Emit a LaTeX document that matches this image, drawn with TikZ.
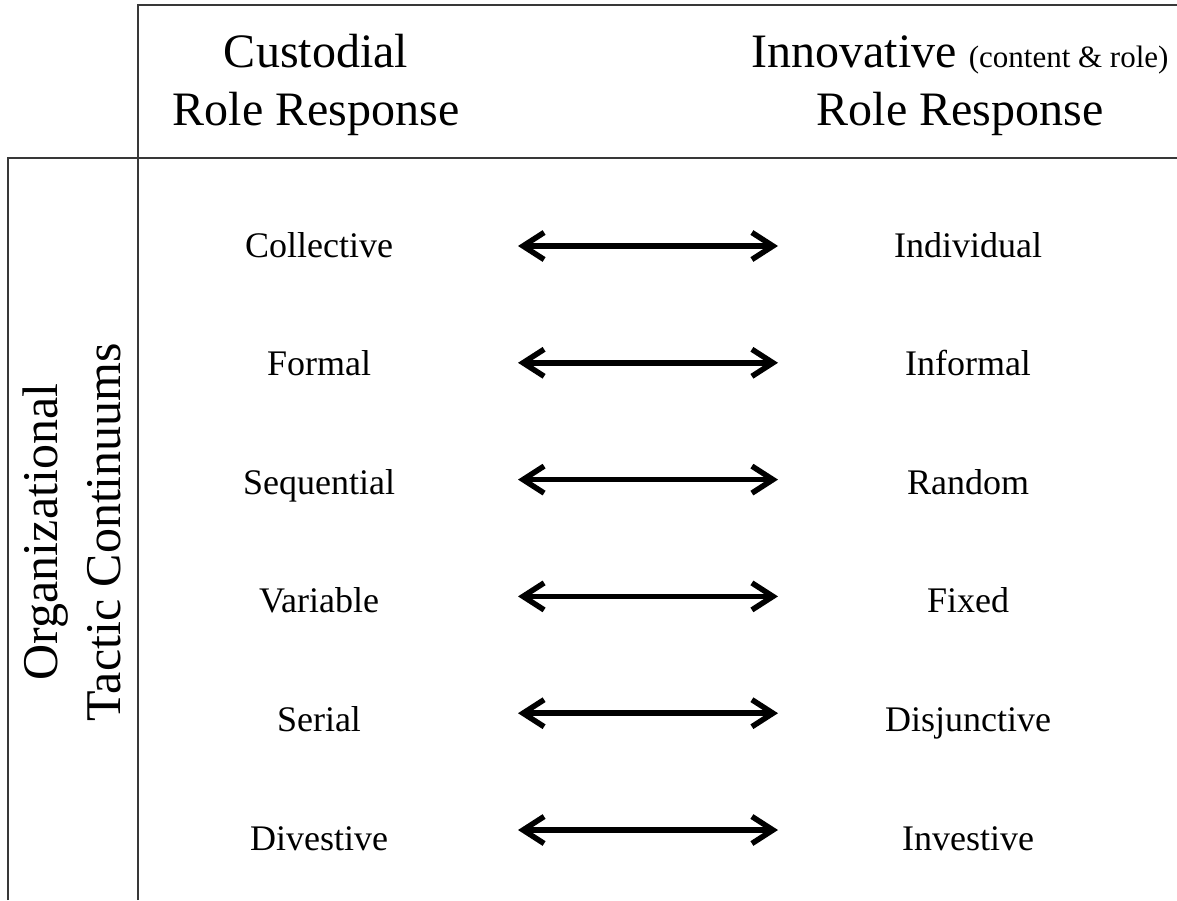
\documentclass[tikz,border=0pt]{standalone}
\usepackage{fontspec}
\setmainfont{Liberation Serif}
\usetikzlibrary{arrows.meta, positioning}

\begin{document}
\begin{tikzpicture}[
    x=1pt, y=-1pt,
    frame/.style={draw=black!78, line width=2pt},
    head/.style={font=\fontsize{48}{58}\selectfont, inner sep=0pt, anchor=base},
    side/.style={font=\fontsize{50}{63}\selectfont, inner sep=0pt, align=center, rotate=90},
    tactic/.style={font=\fontsize{36}{40}\selectfont, inner sep=0pt, anchor=base},
    pair/.style={{Straight Barb[length=21pt,width=27pt]}-{Straight Barb[length=21pt,width=27pt]}, line width=5.5pt}
]
\useasboundingbox (0,0) rectangle (1177,900);

% Table rules
\draw[frame] (138,900) -- (138,5) -- (1177,5);
\draw[frame] (8,900) -- (8,158) -- (1177,158);

% Column headers
\node[head] (cust) at (316,67) {Custodial};
\node[head] (custrole) at (316,125) {Role Response};
\node[head] (innov) at (960,67) {Innovative {\fontsize{31}{36}\selectfont (content \& role)}};
\node[head] (innovrole) at (960,125) {Role Response};

% Row header
\node[side] (tactics) at (72,532) {Organizational\\Tactic Continuums};

% Tactic pairs
\foreach \l/\r [count=\i from 0] in {Collective/Individual, Formal/Informal,
    Sequential/Random, Variable/Fixed, Serial/Disjunctive, Divestive/Investive} {
  \node[tactic] (left\i) at (319,257+118.6*\i) {\l};
  \node[tactic] (right\i) at (968,257+118.6*\i) {\r};
  \coordinate (from\i) at (518,246+116.8*\i);
  \coordinate (to\i) at (778,246+116.8*\i);
  \draw[pair] (from\i) -- (to\i);
}

\end{tikzpicture}
\end{document}
